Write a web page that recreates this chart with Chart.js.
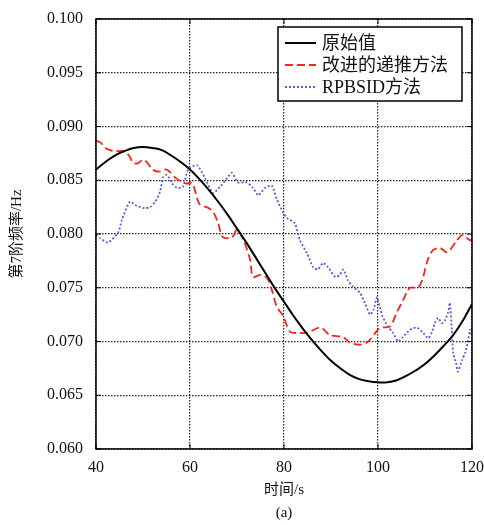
<!DOCTYPE html>
<html lang="zh">
<head>
<meta charset="UTF-8">
<title>第7阶频率</title>
<script src="https://cdn.jsdelivr.net/npm/chart.js"></script>
<style>
  html, body { margin: 0; padding: 0; background: #fff; }
  #wrap { width: 484px; height: 525px; }
</style>
</head>
<body>
<div id="wrap"><canvas id="freqChart" width="484" height="525"></canvas></div>
<script>
  // 原始值
  const timeOriginal = [40, 42, 44, 46, 48, 50, 52, 54, 56, 58, 60, 62, 64, 66, 68, 70, 72, 74, 76, 78,
    80, 82, 84, 86, 88, 90, 92, 94, 96, 98, 100, 102, 104, 106, 108, 110, 112, 114, 116, 118, 120];
  const valueOriginal = [0.0860, 0.0867, 0.0873, 0.0877, 0.0880, 0.0881, 0.0880, 0.0878, 0.0873, 0.0867,
    0.0860, 0.0851, 0.0841, 0.0830, 0.0818, 0.0805, 0.0792, 0.0778, 0.0764, 0.0750,
    0.0737, 0.0724, 0.0712, 0.0701, 0.0691, 0.0682, 0.0675, 0.0669, 0.0665, 0.0663,
    0.0662, 0.0662, 0.0664, 0.0668, 0.0673, 0.0679, 0.0687, 0.0696, 0.0706, 0.0719, 0.0735];

  // 改进的递推方法
  const timeImproved = [40, 41, 42, 43, 44, 46, 47, 48, 49, 50, 51, 52, 53.5, 55, 57, 59, 60.5, 62, 64, 65,
    66, 67, 69, 70, 71.3, 72.8, 73.4, 75, 76.4, 77.4, 78.5, 79.8, 81.3, 83.4, 85, 87.7, 89.8, 92.6,
    94, 96.2, 97.9, 100, 101, 102.6, 104, 105.4, 106.8, 108.5, 109.4, 110.6, 111.7, 113.2, 114.7,
    116.8, 117.9, 119.6, 120];
  const valueImproved = [0.0887, 0.0885, 0.0880, 0.0878, 0.0877, 0.0877, 0.0873, 0.0866, 0.0866, 0.0869,
    0.0866, 0.0860, 0.0858, 0.0860, 0.0852, 0.0847, 0.0847, 0.0828, 0.0824, 0.0820,
    0.0810, 0.0797, 0.0797, 0.0804, 0.0795, 0.0776, 0.0760, 0.0762, 0.0759, 0.0748, 0.0732, 0.0724,
    0.0709, 0.0708, 0.0708, 0.0713, 0.0706, 0.0704, 0.0699, 0.0697, 0.0700, 0.0711, 0.0713, 0.0714,
    0.0727, 0.0739, 0.0750, 0.0750, 0.0757, 0.0776, 0.0785, 0.0787, 0.0783, 0.0794, 0.0799, 0.0794, 0.0795];

  // RPBSID方法
  const timeRpbsid = [40, 40.9, 42.5, 44.7, 45.5, 47.2, 48.7, 50.4, 51.5, 52.6, 53.6, 54.3, 55.1, 56.2, 57.2,
    58.5, 59.6, 61.5, 63.2, 64.9, 66.4, 67.9, 68.9, 70.2, 72.1, 73.4, 74.5, 76, 77.4, 78.5, 79.8,
    80.6, 82.3, 83.4, 84.9, 86.2, 87.2, 88.3, 89.4, 90.9, 91.9, 92.6, 93.6, 94.7, 96.2, 97.2, 98.3,
    99, 99.8, 100.4, 101, 102.1, 103.2, 104.3, 105.3, 106.8, 108.3, 109.6, 110.7, 111.5, 112.1,
    112.8, 113.6, 114.3, 114.9, 115.3, 115.7, 116, 116.6, 117, 117.9, 118.5, 119.1, 119.6, 120];
  const valueRpbsid = [0.0799, 0.0796, 0.0792, 0.0801, 0.0813, 0.0830, 0.0826, 0.0824, 0.0825, 0.0830,
    0.0839, 0.0853, 0.0855, 0.0847, 0.0843, 0.0844, 0.0860, 0.0864, 0.0852, 0.0838, 0.0844,
    0.0852, 0.0857, 0.0848, 0.0848, 0.0843, 0.0836, 0.0843, 0.0845, 0.0832, 0.0820,
    0.0815, 0.0810, 0.0794, 0.0782, 0.0769, 0.0767, 0.0773, 0.0769, 0.0760, 0.0762, 0.0767,
    0.0757, 0.0751, 0.0745, 0.0736, 0.0725, 0.0729, 0.0741, 0.0732, 0.0723, 0.0714, 0.0708,
    0.0700, 0.0704, 0.0711, 0.0713, 0.0708, 0.0703, 0.0709, 0.0717, 0.0722, 0.0717, 0.0720,
    0.0727, 0.0736, 0.0711, 0.0689, 0.0680, 0.0672, 0.0683, 0.0689, 0.0699, 0.0711, 0.0705];

  const xTicks = [40, 60, 80, 100, 120];
  const yMin = 0.060, yMax = 0.100, yStep = 0.005;

  const SERIF = '"Liberation Serif", "Noto Sans CJK SC", serif';
  const toPoints = (xs, ys) => xs.map((x, i) => ({x: x, y: ys[i]}));

  // box, inner ticks and the legend drawn over the plot
  const boxLegend = {
    id: 'boxLegend',
    afterDraw(chart) {
      const {ctx, chartArea: a, scales} = chart;
      ctx.save();
      ctx.strokeStyle = '#000';
      ctx.lineWidth = 1.5;
      ctx.setLineDash([]);
      ctx.strokeRect(a.left, a.top, a.right - a.left, a.bottom - a.top);

      ctx.lineWidth = 1;
      xTicks.forEach(v => {
        const px = scales.x.getPixelForValue(v);
        ctx.beginPath();
        ctx.moveTo(px, a.bottom); ctx.lineTo(px, a.bottom - 5);
        ctx.moveTo(px, a.top); ctx.lineTo(px, a.top + 5);
        ctx.stroke();
      });
      scales.y.ticks.forEach(t => {
        const py = scales.y.getPixelForValue(t.value);
        ctx.beginPath();
        ctx.moveTo(a.left, py); ctx.lineTo(a.left + 5, py);
        ctx.moveTo(a.right, py); ctx.lineTo(a.right - 5, py);
        ctx.stroke();
      });

      // legend
      const lx = a.right - 194, ly = a.top + 8, lw = 184, lh = 74;
      ctx.fillStyle = '#fff';
      ctx.fillRect(lx, ly, lw, lh);
      ctx.lineWidth = 1.5;
      ctx.strokeStyle = '#000';
      ctx.strokeRect(lx, ly, lw, lh);
      ctx.font = '18px ' + SERIF;
      ctx.textBaseline = 'middle';
      chart.data.datasets.forEach((ds, i) => {
        const y = ly + 16 + i * 22;
        ctx.beginPath();
        ctx.strokeStyle = ds.borderColor;
        ctx.lineWidth = ds.borderWidth;
        ctx.setLineDash(ds.borderDash || []);
        ctx.moveTo(lx + 7, y);
        ctx.lineTo(lx + 38, y);
        ctx.stroke();
        ctx.setLineDash([]);
        ctx.fillStyle = '#111';
        ctx.fillText(ds.label, lx + 44, y + 1);
      });
      ctx.restore();
    }
  };

  new Chart(document.getElementById('freqChart'), {
    type: 'line',
    data: {
      datasets: [
        {
          label: '原始值',
          data: toPoints(timeOriginal, valueOriginal),
          borderColor: '#000',
          borderWidth: 2,
          tension: 0.4
        },
        {
          label: '改进的递推方法',
          data: toPoints(timeImproved, valueImproved),
          borderColor: '#f2261b',
          borderWidth: 1.8,
          borderDash: [8, 4],
          tension: 0.3
        },
        {
          label: 'RPBSID方法',
          data: toPoints(timeRpbsid, valueRpbsid),
          borderColor: '#5b5bd6',
          borderWidth: 1.8,
          borderDash: [2, 2],
          tension: 0.2
        }
      ]
    },
    options: {
      responsive: false,
      animation: false,
      layout: { padding: { top: 19, right: 12, left: 0, bottom: 0 } },
      elements: { point: { radius: 0 } },
      plugins: { legend: { display: false }, tooltip: { enabled: false } },
      scales: {
        x: {
          type: 'linear',
          min: 40,
          max: 120,
          afterBuildTicks: s => { s.ticks = xTicks.map(v => ({value: v})); },
          ticks: { color: '#111', font: { family: SERIF, size: 16 }, padding: 9, maxRotation: 0 },
          grid: { color: '#222', lineWidth: 1.2, drawTicks: false },
          border: { display: false, dash: [1.5, 1.5] },
          title: {
            display: true,
            text: ['时间/s', '(a)'],
            color: '#111',
            font: { family: SERIF, size: 15, lineHeight: 1.5 },
            padding: { top: 0, bottom: 1 }
          },
          afterFit: s => { s.height = 76; s.paddingLeft = 0; s.paddingRight = 0; }
        },
        y: {
          min: yMin,
          max: yMax,
          ticks: {
            stepSize: yStep,
            color: '#111',
            font: { family: SERIF, size: 16 },
            padding: 13,
            callback: v => Number(v).toFixed(3)
          },
          grid: { color: '#222', lineWidth: 1.2, drawTicks: false },
          border: { display: false, dash: [1.5, 1.5] },
          title: {
            display: true,
            text: '第7阶频率/Hz',
            color: '#111',
            font: { family: SERIF, size: 15, lineHeight: 1.2 },
            padding: { top: 8, bottom: 0 }
          },
          afterFit: s => { s.width = 96; s.paddingTop = 0; s.paddingBottom = 0; }
        }
      }
    },
    plugins: [boxLegend]
  });
</script>
</body>
</html>
